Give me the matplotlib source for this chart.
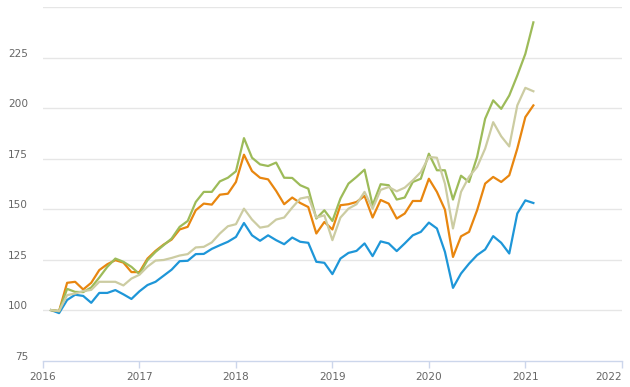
import matplotlib
matplotlib.use("Agg")
import matplotlib.pyplot as plt
import numpy as np

# Monthly observations, Feb 2016 .. Feb 2021
month_index = list(range(1, 62))
year_ticks = [2016, 2017, 2018, 2019, 2020, 2021, 2022]
y_ticks = [75, 100, 125, 150, 175, 200, 225]

blue = [100, 98.5, 105, 107.6, 107, 103.6, 108.5, 108.5, 109.9, 107.8,
        105.5, 109.3, 112.4, 114, 117, 120, 124.2, 124.4, 127.7, 127.8,
        130.3, 132.1, 133.8, 136.2, 143.1, 137, 134.3, 137, 134.6, 132.6,
        135.9, 133.8, 133.3, 123.9, 123.4, 117.8, 125.5, 128.3, 129.3, 133,
        126.7, 134, 133, 129.2, 133, 137, 138.7, 143.3, 140.4, 128.8,
        111, 118.1, 123, 127.2, 130, 136.6, 133.3, 128, 147.8, 154.3, 153]

orange = [100, 99.5, 113.5, 114, 110.2, 113.5, 119.8, 122.7, 124.7, 123.5,
          118.8, 118.8, 125.5, 129.3, 132.4, 134.9, 139.9, 141.2, 149.4, 152.7,
          152.2, 157.1, 157.6, 163.4, 176.9, 168.8, 165.5, 164.7, 159, 152.4,
          155.7, 153, 151, 137.9, 143.6, 139.9, 151.9, 152.4, 153.5, 156.5,
          145.8, 154.5, 152.7, 145.3, 147.8, 154, 154, 165, 158.5, 149.7,
          126.3, 136.5, 138.7, 149.4, 162.6, 165.9, 163.4, 166.7, 179.9, 195.5, 201.3]

green = [100, 99.5, 110.5, 109, 108.9, 111.2, 116.1, 121.4, 125.5, 123.9,
         121.4, 117.8, 124.7, 128.8, 132.1, 135.4, 141.2, 144.1, 153.5, 158.5,
         158.5, 163.7, 165.5, 168.7, 185.1, 175.4, 172.1, 171.3, 173, 165.5,
         165.4, 161.8, 160.1, 145.3, 149.4, 144.1, 155.2, 162.6, 165.9, 169.5,
         151.9, 162.3, 161.8, 154.7, 155.7, 163.4, 165, 177.4, 169.2, 169.2,
         154.7, 166.5, 163.4, 175.8, 194.7, 203.8, 199.6, 206.2, 216.1, 226.8, 242.4]

beige = [100, 99.5, 107.4, 108.2, 109.4, 110, 114, 114, 114, 112.2,
         115.6, 117.5, 121.5, 124.5, 124.8, 125.8, 127, 127.7, 131, 131.3,
         133.5, 137.9, 141.5, 142.5, 150.2, 144.8, 140.8, 141.5, 144.8, 145.8,
         150.7, 155.2, 156, 145.8, 146.9, 134.6, 145.8, 150.2, 152.4, 158.5,
         150.2, 159.5, 160.9, 158.8, 160.6, 164.2, 168.3, 175.8, 175.4, 162.6,
         140.4, 158.5, 166, 170.8, 179.9, 193, 186, 181, 201.3, 210, 208.3]

x = 2016 + np.array(month_index) / 12.0

fig = plt.figure(figsize=(6.3, 3.87), dpi=100)
ax = fig.add_axes([43 / 630, (387 - 360.6) / 387, (621.8 - 43) / 630, (360.6 - 7) / 387])

lw = 1.6
ax.plot(x, blue, color="#1e96d8", lw=lw, solid_joinstyle="round", zorder=3)
ax.plot(x, orange, color="#e8860f", lw=lw, solid_joinstyle="round", zorder=3)
ax.plot(x, green, color="#9dbb59", lw=lw, solid_joinstyle="round", zorder=3)
ax.plot(x, beige, color="#cccca2", lw=lw, solid_joinstyle="round", zorder=3)

ax.set_xlim(2016, 2022)
ax.set_ylim(75, 250)

for v in [100, 125, 150, 175, 200, 225, 250]:
    ax.axhline(v, color="#e6e6e6", lw=1, zorder=1)

for s in ["top", "right", "left"]:
    ax.spines[s].set_visible(False)
ax.spines["bottom"].set_color("#ccd6eb")
ax.spines["bottom"].set_linewidth(1)

ax.set_xticks(year_ticks)
ax.set_xticklabels([str(t) for t in year_ticks])
ax.tick_params(axis="x", colors="#ccd6eb", length=5, width=1, labelcolor="#666666",
               labelsize=7.6, pad=3)
last = ax.get_xticklabels()[-1]
last.set_horizontalalignment("right")

ax.set_yticks([])
for t in y_ticks:
    ax.annotate(str(t), xy=(0, t), xycoords=("axes fraction", "data"),
                xytext=(-15, 4), textcoords="offset pixels",
                ha="right", va="center", fontsize=7.6, color="#666666")

fig.savefig("out.png", dpi=100)
